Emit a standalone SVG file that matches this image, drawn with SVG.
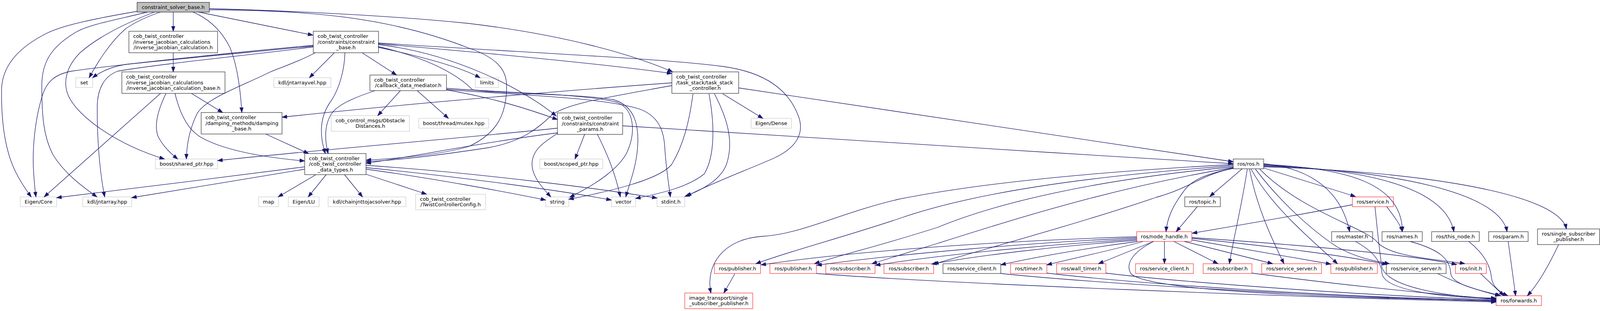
<svg xmlns="http://www.w3.org/2000/svg" width="4257" height="796" viewBox="0 0 4257 796">
<defs>
<marker id="ah" markerUnits="userSpaceOnUse" markerWidth="14" markerHeight="11" refX="13" refY="5" orient="auto"><path d="M0.5,0.5 L13,5 L0.5,9.5 z" fill="#191970" stroke="#191970" stroke-width="1"/></marker>
<style>
.n rect{fill:#ffffff;stroke-width:1}
.b rect{stroke:#000000}
.g rect{stroke:#bfbfbf}
.r rect{stroke:#ff0000}
.root rect{fill:#bfbfbf;stroke:#000000}
text{font-family:"DejaVu Sans","Liberation Sans",sans-serif;font-size:13px;fill:#000000}
.c{text-anchor:middle}
#edges path{fill:none;stroke:#191970;stroke-width:1.3;marker-end:url(#ah)}
</style>
</defs>
<rect width="4257" height="796" fill="#ffffff"/>

<g id="node-main" class="n root"><rect x="351" y="6" width="185" height="25"/><text class="c" x="443.5" y="22.5">constraint_solver_base.h</text></g>
<g id="node-ijc" class="n b"><rect x="330" y="80" width="227" height="55"/><text x="341" y="97">cob_twist_controller</text><text x="341" y="111.5">/inverse_jacobian_calculations</text><text class="c" x="443.5" y="126">/inverse_jacobian_calculation.h</text></g>
<g id="node-cb" class="n b"><rect x="802" y="80" width="167" height="55"/><text x="813" y="97">cob_twist_controller</text><text x="813" y="111.5">/constraints/constraint</text><text class="c" x="885.5" y="126">_base.h</text></g>
<g id="node-set" class="n g"><rect x="194" y="199" width="43" height="25"/><text class="c" x="215.5" y="215.5">set</text></g>
<g id="node-ijcb" class="n b"><rect x="312" y="184" width="264" height="55"/><text x="323" y="201">cob_twist_controller</text><text x="323" y="215.5">/inverse_jacobian_calculations</text><text class="c" x="444" y="230">/inverse_jacobian_calculation_base.h</text></g>
<g id="node-jav" class="n g"><rect x="701" y="199" width="146" height="25"/><text class="c" x="774" y="215.5">kdl/jntarrayvel.hpp</text></g>
<g id="node-cdm" class="n b"><rect x="947" y="192" width="196" height="40"/><text x="958" y="208.8">cob_twist_controller</text><text class="c" x="1045" y="223.2">/callback_data_mediator.h</text></g>
<g id="node-limits" class="n g"><rect x="1217" y="199" width="59" height="25"/><text class="c" x="1246.5" y="215.5">limits</text></g>
<g id="node-tsc" class="n b"><rect x="1720" y="184" width="171" height="55"/><text x="1731" y="201">cob_twist_controller</text><text x="1731" y="215.5">/task_stack/task_stack</text><text class="c" x="1805.5" y="230">_controller.h</text></g>
<g id="node-damp" class="n b"><rect x="515" y="288" width="207" height="55"/><text x="526" y="305">cob_twist_controller</text><text x="526" y="319.5">/damping_methods/damping</text><text class="c" x="618.5" y="334">_base.h</text></g>
<g id="node-ocd" class="n g"><rect x="848" y="296" width="200" height="40"/><text x="859" y="312.8">cob_control_msgs/Obstacle</text><text class="c" x="948" y="327.2">Distances.h</text></g>
<g id="node-mutex" class="n g"><rect x="1072" y="303" width="179" height="25"/><text class="c" x="1161.5" y="319.5">boost/thread/mutex.hpp</text></g>
<g id="node-cp" class="n b"><rect x="1427" y="289" width="167" height="55"/><text x="1438" y="306">cob_twist_controller</text><text x="1438" y="320.5">/constraints/constraint</text><text class="c" x="1510.5" y="335">_params.h</text></g>
<g id="node-dense" class="n g"><rect x="1923" y="303" width="103" height="25"/><text class="c" x="1974.5" y="319.5">Eigen/Dense</text></g>
<g id="node-sp" class="n g"><rect x="398" y="407" width="159" height="25"/><text class="c" x="477.5" y="423.5">boost/shared_ptr.hpp</text></g>
<g id="node-dt" class="n b"><rect x="780" y="393" width="157" height="54"/><text x="791" y="409.5">cob_twist_controller</text><text x="791" y="424">/cob_twist_controller</text><text class="c" x="858.5" y="438.5">_data_types.h</text></g>
<g id="node-scp" class="n g"><rect x="1382" y="407" width="161" height="25"/><text class="c" x="1462.5" y="423.5">boost/scoped_ptr.hpp</text></g>
<g id="node-ros" class="n b"><rect x="3157" y="407" width="78" height="25"/><text class="c" x="3196" y="423.5">ros/ros.h</text></g>
<g id="node-core" class="n g"><rect x="52" y="504" width="93" height="25"/><text class="c" x="98.5" y="520.5">Eigen/Core</text></g>
<g id="node-ja" class="n g"><rect x="212" y="504" width="125" height="25"/><text class="c" x="274.5" y="520.5">kdl/jntarray.hpp</text></g>
<g id="node-map" class="n g"><rect x="662" y="504" width="51" height="25"/><text class="c" x="687.5" y="520.5">map</text></g>
<g id="node-lu" class="n g"><rect x="738" y="504" width="79" height="25"/><text class="c" x="777.5" y="520.5">Eigen/LU</text></g>
<g id="node-cjs" class="n g"><rect x="840" y="504" width="199" height="25"/><text class="c" x="939.5" y="520.5">kdl/chainjnttojacsolver.hpp</text></g>
<g id="node-tcc" class="n g"><rect x="1064" y="497" width="179" height="40"/><text x="1075" y="513.8">cob_twist_controller</text><text class="c" x="1153.5" y="528.2">/TwistControllerConfig.h</text></g>
<g id="node-str" class="n g"><rect x="1397" y="504" width="59" height="25"/><text class="c" x="1426.5" y="520.5">string</text></g>
<g id="node-vec" class="n g"><rect x="1565" y="504" width="62" height="25"/><text class="c" x="1596" y="520.5">vector</text></g>
<g id="node-std" class="n g"><rect x="1682" y="504" width="71" height="25"/><text class="c" x="1717.5" y="520.5">stdint.h</text></g>
<g id="node-topic" class="n b"><rect x="3033" y="504" width="91" height="25"/><text class="c" x="3078.5" y="520.5">ros/topic.h</text></g>
<g id="node-srv" class="n r"><rect x="3462" y="504" width="105" height="25"/><text class="c" x="3514.5" y="520.5">ros/service.h</text></g>
<g id="node-nh" class="n r"><rect x="2910" y="593" width="141" height="25"/><text class="c" x="2980.5" y="609.5">ros/node_handle.h</text></g>
<g id="node-master" class="n b"><rect x="3409" y="593" width="105" height="25"/><text class="c" x="3461.5" y="609.5">ros/master.h</text></g>
<g id="node-names" class="n b"><rect x="3538" y="593" width="103" height="25"/><text class="c" x="3589.5" y="609.5">ros/names.h</text></g>
<g id="node-thisnode" class="n b"><rect x="3665" y="593" width="122" height="25"/><text class="c" x="3726" y="609.5">ros/this_node.h</text></g>
<g id="node-param" class="n b"><rect x="3811" y="593" width="101" height="25"/><text class="c" x="3861.5" y="609.5">ros/param.h</text></g>
<g id="node-ssp" class="n b"><rect x="3936" y="586" width="159" height="40"/><text x="3947" y="602.8">ros/single_subscriber</text><text class="c" x="4015.5" y="617.2">_publisher.h</text></g>
<g id="node-pub1" class="n r"><rect x="1829" y="675" width="118" height="25"/><text class="c" x="1888" y="691.5">ros/publisher.h</text></g>
<g id="node-pub2" class="n r"><rect x="1971" y="675" width="119" height="25"/><text class="c" x="2030.5" y="691.5">ros/publisher.h</text></g>
<g id="node-sub1" class="n r"><rect x="2114" y="675" width="126" height="25"/><text class="c" x="2177" y="691.5">ros/subscriber.h</text></g>
<g id="node-sub2" class="n r"><rect x="2263" y="675" width="127" height="25"/><text class="c" x="2326.5" y="691.5">ros/subscriber.h</text></g>
<g id="node-scb" class="n b"><rect x="2414" y="675" width="148" height="25"/><text class="c" x="2488" y="691.5">ros/service_client.h</text></g>
<g id="node-timer" class="n r"><rect x="2587" y="675" width="93" height="25"/><text class="c" x="2633.5" y="691.5">ros/timer.h</text></g>
<g id="node-wtimer" class="n r"><rect x="2705" y="675" width="126" height="25"/><text class="c" x="2768" y="691.5">ros/wall_timer.h</text></g>
<g id="node-scr" class="n r"><rect x="2907" y="675" width="148" height="25"/><text class="c" x="2981" y="691.5">ros/service_client.h</text></g>
<g id="node-sub3" class="n r"><rect x="3080" y="675" width="125" height="25"/><text class="c" x="3142.5" y="691.5">ros/subscriber.h</text></g>
<g id="node-ssr" class="n r"><rect x="3230" y="675" width="153" height="25"/><text class="c" x="3306.5" y="691.5">ros/service_server.h</text></g>
<g id="node-pub3" class="n r"><rect x="3407" y="675" width="119" height="25"/><text class="c" x="3466.5" y="691.5">ros/publisher.h</text></g>
<g id="node-ssb" class="n b"><rect x="3549" y="675" width="153" height="25"/><text class="c" x="3625.5" y="691.5">ros/service_server.h</text></g>
<g id="node-init" class="n r"><rect x="3726" y="675" width="79" height="25"/><text class="c" x="3765.5" y="691.5">ros/init.h</text></g>
<g id="node-it" class="n r"><rect x="1753" y="750" width="174" height="40"/><text x="1764" y="766.8">image_transport/single</text><text class="c" x="1840" y="781.2">_subscriber_publisher.h</text></g>
<g id="node-fwd" class="n r"><rect x="3830" y="757" width="116" height="25"/><text class="c" x="3888" y="773.5">ros/forwards.h</text></g>

<g id="edges">
<path d="M351,29 C240,48 160,65 120,85 C60,115 5,160 4,230 C3,320 15,390 40,440 C55,470 68,488 80,504"/>
<path d="M377,31 C300,50 230,62 195,82 C130,120 107,160 107,220 C107,300 112,350 135,395 C165,445 215,480 248,504"/>
<path d="M395,31 C320,60 250,95 205,135 C170,170 160,210 175,245 C200,300 300,370 421,407"/>
<path d="M410,31 C370,45 340,60 320,75 C280,110 250,160 228,199"/>
<path d="M443.5,31 L443.5,80"/>
<path d="M494,31 C540,50 570,85 588,120 C605,160 615,220 619,288"/>
<path d="M509,31 L801,90"/>
<path d="M536,22 C750,28 1000,40 1200,60 C1450,90 1620,140 1722,184"/>
<path d="M536,25 C800,26 1000,45 1200,123 C1280,150 1297,185 1297,220 C1297,290 1275,340 1200,375 C1120,398 1010,406 937,410"/>
<path d="M802,116 C650,130 450,150 320,165 C280,172 255,185 237,199"/>
<path d="M802,118 C600,138 320,162 184,182 C140,190 120,210 110,240 C90,300 82,380 86,440 C88,470 90,490 92,504"/>
<path d="M802,120 C650,140 420,162 302,182 C265,195 250,230 249,270 C248,350 255,440 268,504"/>
<path d="M807,135 C760,160 720,172 690,185 C620,220 530,250 505,290 C485,330 478,370 477,407"/>
<path d="M856,135 L792,199"/>
<path d="M883,135 C882,180 868,230 845,262 C815,305 820,355 833,393"/>
<path d="M927,135 L1015,192"/>
<path d="M968,121 C1080,145 1180,172 1229,199"/>
<path d="M968,114 C1150,135 1330,220 1424,297"/>
<path d="M968,112 C1300,140 1550,165 1720,188"/>
<path d="M968,110 C1350,135 1700,150 1850,170 C1960,185 2020,230 2045,300 C2060,345 2035,380 1981,405 C1900,440 1820,470 1757,502"/>
<path d="M968,119 C1100,150 1170,190 1210,230 C1300,242 1480,240 1570,255 C1630,272 1636,330 1632,380 C1628,430 1610,475 1602,504"/>
<path d="M1143,226 C1300,238 1500,240 1580,262 C1625,280 1628,340 1605,390 C1585,430 1530,470 1458,505"/>
<path d="M1143,229 C1350,245 1550,250 1640,280 C1690,300 1700,340 1702,380 C1705,430 1712,470 1716,504"/>
<path d="M1025,232 L967,296"/>
<path d="M1068,232 L1148,303"/>
<path d="M960,232 C900,252 862,270 848,292 C828,325 832,362 840,393"/>
<path d="M1143,230 C1260,250 1350,278 1427,306"/>
<path d="M411,239 L113,504"/>
<path d="M425,239 C405,280 393,320 405,350 C420,378 440,395 455,407"/>
<path d="M448,239 C460,290 480,330 512,350 C580,390 700,405 780,412"/>
<path d="M490,239 L570,288"/>
<path d="M443.5,135 L443.5,184"/>
<path d="M680,343 L790,393"/>
<path d="M809,447 L712,504"/>
<path d="M835,447 L789,504"/>
<path d="M882,447 L928,504"/>
<path d="M937,446 L1092,497"/>
<path d="M780,427 C600,450 300,488 145,506"/>
<path d="M780,433 C650,455 450,487 337,506"/>
<path d="M937,433 C1100,455 1300,492 1397,512"/>
<path d="M937,429 C1200,455 1450,490 1565,512"/>
<path d="M937,423 C1250,445 1550,485 1682,507"/>
<path d="M1497,343 L1472,407"/>
<path d="M1428,341 C1390,365 1362,385 1362,420 C1362,452 1390,482 1410,504"/>
<path d="M1529,343 C1550,385 1575,440 1588,504"/>
<path d="M1427,328 C1200,352 800,385 557,411"/>
<path d="M1427,340 C1250,362 1050,402 937,418"/>
<path d="M1594,322 C1900,342 2600,385 3157,419"/>
<path d="M1720,212 C1400,235 1000,270 722,300"/>
<path d="M1720,219 C1550,250 1450,265 1412,295 C1380,325 1340,362 1250,378 C1120,398 1010,410 937,414"/>
<path d="M1774,240 C1765,310 1750,370 1720,420 C1690,460 1560,490 1456,510"/>
<path d="M1815,240 C1830,320 1830,400 1803,445 C1760,480 1690,495 1627,508"/>
<path d="M1829,240 C1860,300 1880,360 1860,420 C1845,460 1800,485 1753,503"/>
<path d="M1850,240 L1953,303"/>
<path d="M1891,225 L3157,414"/>
<path d="M3180,432 L3097,503"/>
<path d="M3158,430 C3090,445 3050,460 3030,490 C3000,530 2988,560 2985,593"/>
<path d="M3193,433 C3180,520 3160,600 3147,675"/>
<path d="M3199,433 C3215,520 3250,600 3287,675"/>
<path d="M3203,433 C3250,520 3330,590 3424,675"/>
<path d="M3214,433 C3280,520 3360,590 3420,630 C3470,660 3520,668 3557,675"/>
<path d="M3225,433 C3330,540 3500,585 3526,620 C3560,660 3700,665 3750,675"/>
<path d="M3235,430 L3470,503"/>
<path d="M3235,419 C3330,428 3430,470 3455,593"/>
<path d="M3235,421 C3450,430 3590,470 3590,593"/>
<path d="M3235,423 C3500,433 3700,480 3722,593"/>
<path d="M3235,425 C3550,435 3840,490 3858,593"/>
<path d="M3235,427 C3600,437 3990,490 4010,586"/>
<path d="M3157,421 C2800,440 2500,470 2300,510 C2150,545 2050,600 1950,605 C1850,612 1805,680 1820,750"/>
<path d="M3157,424 C2800,450 2500,490 2300,560 C2150,610 2030,640 1935,675"/>
<path d="M3157,427 C2800,460 2550,520 2400,582 C2250,630 2160,650 2085,675"/>
<path d="M3157,429 C2850,480 2600,560 2400,623 C2330,645 2280,660 2232,675"/>
<path d="M3157,431 C3080,445 3050,480 2960,505 C2800,560 2550,630 2390,676"/>
<path d="M2910,606 C2600,615 2200,640 1948,678"/>
<path d="M2910,609 C2650,620 2300,650 2091,679"/>
<path d="M2910,612 C2700,625 2420,650 2241,679"/>
<path d="M2910,615 C2700,630 2500,655 2385,676"/>
<path d="M2912,618 C2780,635 2640,660 2562,678"/>
<path d="M2926,618 C2850,640 2760,658 2680,678"/>
<path d="M2953,618 L2812,675"/>
<path d="M2981,618 L2981,675"/>
<path d="M3005,618 L3118,675"/>
<path d="M3032,618 L3258,675"/>
<path d="M3051,614 L3407,676"/>
<path d="M3051,610 C3250,630 3450,655 3551,677"/>
<path d="M3051,608 C3300,625 3600,650 3729,677"/>
<path d="M2953,618 C2900,645 2880,675 2895,700 C2930,740 3300,760 3830,770"/>
<path d="M2090,700 C2400,725 3300,760 3830,773"/>
<path d="M2562,700 C2800,725 3400,760 3830,771"/>
<path d="M2680,699 C2900,725 3400,760 3830,769"/>
<path d="M2831,699 C3000,720 3500,758 3830,767"/>
<path d="M3205,699 C3400,725 3650,752 3830,765"/>
<path d="M1881,701 L1853,750"/>
<path d="M3680,700 C3740,730 3800,748 3840,757"/>
<path d="M3790,700 L3850,757"/>
<path d="M3470,618 C3510,640 3535,665 3538,700 C3545,745 3700,762 3830,763"/>
<path d="M3610,618 C3690,640 3712,665 3714,700 C3716,730 3800,745 3842,757"/>
<path d="M3760,618 C3800,650 3815,680 3818,710 C3821,735 3840,748 3860,757"/>
<path d="M3861,618 L3880,757"/>
<path d="M3990,626 C3960,690 3935,730 3910,757"/>
<path d="M3462,524 C3300,555 3150,580 3052,597"/>
<path d="M3550,529 C3570,555 3585,575 3590,593"/>
<path d="M3520,529 C3524,570 3530,630 3537,680 C3545,735 3700,758 3830,766"/>
<path d="M3065,529 L3011,593"/>
</g>
</svg>
